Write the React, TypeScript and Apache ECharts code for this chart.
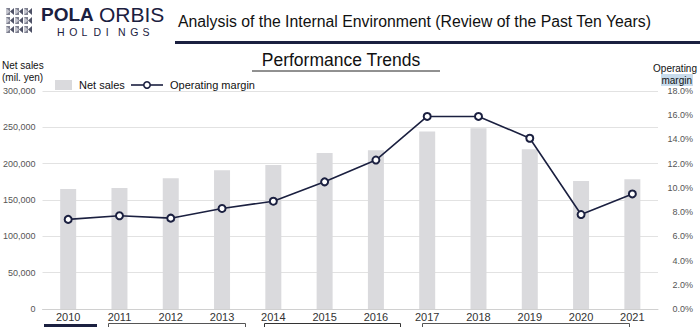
import React, { useEffect, useRef } from "react";
import * as echarts from "echarts";

const years = ["2010", "2011", "2012", "2013", "2014", "2015", "2016", "2017", "2018", "2019", "2020", "2021"];
const netSales = [165000, 166500, 180000, 191000, 198000, 214800, 218500, 244300, 248600, 219900, 176300, 178600];
const opMargin = [7.4, 7.7, 7.5, 8.3, 8.9, 10.5, 12.3, 15.9, 15.9, 14.1, 7.8, 9.5];
const leftTicks = [0, 50000, 100000, 150000, 200000, 250000, 300000];
const rightTicks = [0, 2, 4, 6, 8, 10, 12, 14, 16, 18];

const NAVY = "#1b2040";
const FONT = "Liberation Sans, Arial, sans-serif";

function logoCells() {
  const els: any[] = [];
  const xs = [6, 15, 24];
  const ys = [8, 17, 26];
  for (const y of ys) {
    for (const x of xs) {
      els.push({
        type: "polygon",
        shape: { points: [[x, y], [x + 4, y], [x + 4, y + 7], [x, y + 7]] },
        style: { fill: "#7e8090" },
      });
      els.push({
        type: "polygon",
        shape: { points: [[x + 4, y + 3.5], [x + 8, y], [x + 8, y + 7]] },
        style: { fill: "#4e5166" },
      });
      els.push({
        type: "polygon",
        shape: { points: [[x, y], [x + 4, y + 3.5], [x, y + 7]] },
        style: { fill: "#c4c5ce" },
      });
    }
  }
  return els;
}

function holdingsLetters() {
  const letters = "HOLDINGS".split("");
  return letters.map((ch, i) => ({
    type: "text",
    x: 57 + i * 12.2,
    y: 26,
    style: { text: ch, fontFamily: FONT, fontSize: 10.5, fill: NAVY },
  }));
}

export default function App() {
  const ref = useRef<HTMLDivElement>(null);
  useEffect(() => {
    if (!ref.current) return;
    const chart = echarts.init(ref.current, null, { renderer: "svg" });
    chart.setOption({
      animation: false,
      backgroundColor: "#ffffff",
      textStyle: { fontFamily: FONT },
      grid: { left: 40, right: 42, top: 91, bottom: 18, containLabel: false },
      xAxis: {
        type: "category",
        data: years,
        axisLine: { lineStyle: { color: "#d0d0d0" } },
        axisTick: { show: false },
        axisLabel: { color: "#333", fontSize: 11, margin: 2, fontFamily: FONT },
      },
      yAxis: [
        {
          type: "value",
          min: leftTicks[0],
          max: leftTicks[leftTicks.length - 1],
          interval: 50000,
          axisLine: { show: false },
          axisTick: { show: false },
          splitLine: { lineStyle: { color: "#e2e2e2", width: 1 } },
          axisLabel: {
            color: "#555",
            fontSize: 9,
            margin: 7,
            fontFamily: FONT,
            formatter: (v: number) => v.toLocaleString("en-US"),
          },
        },
        {
          type: "value",
          position: "right",
          min: rightTicks[0],
          max: rightTicks[rightTicks.length - 1],
          interval: 2,
          axisLine: { show: false },
          axisTick: { show: false },
          splitLine: { show: false },
          axisLabel: {
            color: "#555",
            fontSize: 9,
            margin: 35,
            align: "right",
            fontFamily: FONT,
            formatter: (v: number) => v.toFixed(1) + "%",
          },
        },
      ],
      series: [
        {
          name: "Net sales",
          type: "bar",
          data: netSales,
          barWidth: 16,
          itemStyle: { color: "#dadadd" },
          yAxisIndex: 0,
        },
        {
          name: "Operating margin",
          type: "line",
          data: opMargin,
          yAxisIndex: 1,
          symbol: "circle",
          symbolSize: 7,
          lineStyle: { color: NAVY, width: 1.6 },
          itemStyle: { color: "#ffffff", borderColor: NAVY, borderWidth: 2 },
          z: 5,
        },
      ],
      graphic: [
        ...logoCells(),
        {
          type: "text",
          x: 41,
          y: 5,
          style: { text: "POLA", fontFamily: FONT, fontSize: 19, fontWeight: "bold", fill: NAVY },
        },
        {
          type: "text",
          x: 99,
          y: 4,
          style: { text: "ORBIS", fontFamily: FONT, fontSize: 21, fill: NAVY },
        },
        ...holdingsLetters(),
        {
          type: "text",
          x: 178,
          y: 13,
          style: {
            text: "Analysis of the Internal Environment (Review of the Past Ten Years)",
            fontFamily: FONT,
            fontSize: 15.8,
            fill: "#111",
          },
        },
        {
          type: "rect",
          shape: { x: 175, y: 41, width: 525, height: 3 },
          style: { fill: NAVY },
        },
        {
          type: "text",
          x: 341,
          y: 51,
          style: {
            text: "Performance Trends",
            fontFamily: FONT,
            fontSize: 17.5,
            fill: "#111",
            align: "center",
          },
        },
        {
          type: "line",
          shape: { x1: 252, y1: 71, x2: 440, y2: 71 },
          style: { stroke: "#222", lineWidth: 1 },
        },
        {
          type: "text",
          x: 2,
          y: 59,
          style: { text: "Net sales\n(mil. yen)", fontFamily: FONT, fontSize: 10, lineHeight: 12, fill: "#111" },
        },
        {
          type: "text",
          x: 697,
          y: 63,
          style: { text: "Operating", fontFamily: FONT, fontSize: 10, fill: "#111", align: "right" },
        },
        {
          type: "rect",
          shape: { x: 661, y: 74, width: 32, height: 12 },
          style: { fill: "#c9dcec" },
        },
        {
          type: "text",
          x: 692,
          y: 75,
          style: { text: "margin", fontFamily: FONT, fontSize: 10, fill: "#111", align: "right" },
        },
        {
          type: "rect",
          shape: { x: 55, y: 80, width: 17, height: 10 },
          style: { fill: "#dadadd" },
        },
        {
          type: "text",
          x: 79,
          y: 79,
          style: { text: "Net sales", fontFamily: FONT, fontSize: 11, fill: "#111" },
        },
        {
          type: "line",
          shape: { x1: 131, y1: 85, x2: 163, y2: 85 },
          style: { stroke: NAVY, lineWidth: 1.6 },
        },
        {
          type: "circle",
          shape: { cx: 147, cy: 85, r: 3.2 },
          style: { fill: "#fff", stroke: NAVY, lineWidth: 1.6 },
        },
        {
          type: "text",
          x: 170,
          y: 79,
          style: { text: "Operating margin", fontFamily: FONT, fontSize: 11, fill: "#111" },
        },
        {
          type: "rect",
          shape: { x: 44, y: 324, width: 53, height: 10 },
          style: { fill: NAVY },
        },
        {
          type: "rect",
          shape: { x: 108.5, y: 323.5, width: 137, height: 10 },
          style: { fill: "none", stroke: "#555", lineWidth: 1 },
        },
        {
          type: "rect",
          shape: { x: 264.5, y: 323.5, width: 136, height: 10 },
          style: { fill: "none", stroke: "#333", lineWidth: 1 },
        },
        {
          type: "rect",
          shape: { x: 422.5, y: 323.5, width: 207, height: 10 },
          style: { fill: "none", stroke: "#555", lineWidth: 1 },
        },
      ],
    });
    return () => chart.dispose();
  }, []);
  return (
    <div
      ref={ref}
      style={{ position: "fixed", left: 0, top: 0, width: 700, height: 327, background: "#fff" }}
    />
  );
}
